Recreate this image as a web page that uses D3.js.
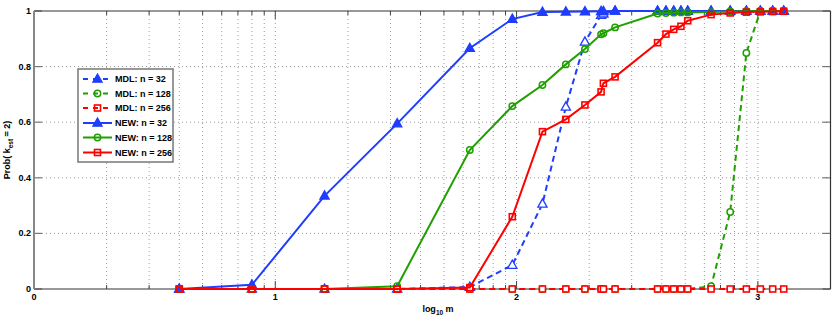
<!DOCTYPE html>
<html><head><meta charset="utf-8">
<script src="https://cdn.jsdelivr.net/npm/d3@7"></script>
<style>body{margin:0;background:#fff;} svg{display:block;} text{font-family:"Liberation Sans",Arial,sans-serif;font-weight:bold;}</style>
</head><body>
<svg id="c" width="837" height="317"></svg>
<script>
const mValues = [4, 8, 16, 32, 64, 96, 128, 160, 192, 224, 229, 256, 384, 416, 448, 480, 512, 640, 768, 896, 1024, 1152, 1280];
const mdl32  = [0, 0, 0, 0, 0.007, 0.086, 0.306, 0.655, 0.889, 0.985, 0.99, 1, 1, 1, 1, 1, 1, 1, 1, 1, 1, 1, 1];
const mdl128 = [0, 0, 0, 0, 0, 0, 0, 0, 0, 0, 0, 0, 0, 0, 0, 0, 0, 0.01, 0.277, 0.849, 1, 1, 1];
const mdl256 = [0, 0, 0, 0, 0, 0, 0, 0, 0, 0, 0, 0, 0, 0, 0, 0, 0, 0, 0, 0, 0, 0, 0];
const new32  = [0, 0.015, 0.335, 0.595, 0.866, 0.971, 0.996, 0.997, 0.998, 0.999, 0.999, 1, 1, 1, 1, 1, 1, 1, 1, 1, 1, 1, 1];
const new128 = [0, 0, 0, 0.01, 0.5, 0.658, 0.734, 0.808, 0.863, 0.916, 0.92, 0.941, 0.991, 0.993, 0.994, 0.995, 0.995, 0.996, 0.998, 0.999, 1, 1, 1];
const new256 = [0, 0, 0, 0, 0.005, 0.26, 0.566, 0.61, 0.662, 0.709, 0.74, 0.763, 0.886, 0.917, 0.934, 0.945, 0.965, 0.987, 0.993, 0.996, 0.997, 0.998, 0.999];
const seriesNames = ["MDL: n = 32", "MDL: n = 128", "MDL: n = 256", "NEW: n = 32", "NEW: n = 128", "NEW: n = 256"];
const xTickValues = [1, 10, 100, 1000];
const xTickLabels = ["0", "1", "2", "3"];
const yTickValues = [0, 0.2, 0.4, 0.6, 0.8, 1];
const yTickLabels = ["0", "0.2", "0.4", "0.6", "0.8", "1"];

const blue = "#1f3dff", green = "#1fa000", red = "#ff0000";
const series = [
  {name: seriesNames[0], vals: mdl32, color: blue, dash: "6,4", shape: "tri", fill: "#fff"},
  {name: seriesNames[1], vals: mdl128, color: green, dash: "6,4", shape: "circ", fill: "#fff"},
  {name: seriesNames[2], vals: mdl256, color: red, dash: "6,4", shape: "sq", fill: "#fff"},
  {name: seriesNames[3], vals: new32, color: blue, dash: null, shape: "tri", fill: blue},
  {name: seriesNames[4], vals: new128, color: green, dash: null, shape: "circ", fill: "none"},
  {name: seriesNames[5], vals: new256, color: red, dash: null, shape: "sq", fill: "none"}
];

const svg = d3.select("#c");
const L = 34, R = 830.5, T = 11, B = 289;
const x = d3.scaleLog().domain([1, 2000]).range([L, R]);
const y = d3.scaleLinear().domain([0, 1]).range([B, T]);

// grid
const g = svg.append("g");
const minor = [];
for (let d = 1; d <= 1000; d *= 10) for (let k = 1; k <= 9; k++) { const v = k * d; if (v > 1 && v < 2000) minor.push(v); }
g.selectAll(".vg").data(minor).enter().append("line")
  .attr("x1", d => x(d)).attr("x2", d => x(d)).attr("y1", T).attr("y2", B)
  .attr("stroke", "#9a9a9a").attr("stroke-width", 1).attr("stroke-dasharray", "1,3");
g.selectAll(".hg").data(yTickValues.filter(v => v > 0 && v < 1)).enter().append("line")
  .attr("x1", L).attr("x2", R).attr("y1", d => y(d)).attr("y2", d => y(d))
  .attr("stroke", "#9a9a9a").attr("stroke-width", 1).attr("stroke-dasharray", "1,3");

// ticks inward
g.selectAll(".mt").data(minor).enter().append("line")
  .attr("x1", d => x(d)).attr("x2", d => x(d)).attr("y1", B).attr("y2", d => (xTickValues.includes(d) ? B - 8 : B - 4))
  .attr("stroke", "#444").attr("stroke-width", 1);
g.selectAll(".mt2").data(minor).enter().append("line")
  .attr("x1", d => x(d)).attr("x2", d => x(d)).attr("y1", T).attr("y2", d => (xTickValues.includes(d) ? T + 8 : T + 4))
  .attr("stroke", "#444").attr("stroke-width", 1);
g.selectAll(".yt").data(yTickValues).enter().append("line")
  .attr("x1", L).attr("x2", L + 8).attr("y1", d => y(d)).attr("y2", d => y(d)).attr("stroke", "#777").attr("stroke-width", 1.2);
g.selectAll(".yt2").data(yTickValues).enter().append("line")
  .attr("x1", R - 8).attr("x2", R).attr("y1", d => y(d)).attr("y2", d => y(d)).attr("stroke", "#777").attr("stroke-width", 1.2);

// frame
g.append("line").attr("x1", L).attr("x2", R).attr("y1", T).attr("y2", T).attr("stroke", "#333").attr("stroke-width", 1.2);
g.append("line").attr("x1", L).attr("x2", R).attr("y1", B).attr("y2", B).attr("stroke", "#333").attr("stroke-width", 1.2);
g.append("line").attr("x1", R).attr("x2", R).attr("y1", T).attr("y2", B).attr("stroke", "#333").attr("stroke-width", 1.2);
g.append("line").attr("x1", L).attr("x2", L).attr("y1", T).attr("y2", B).attr("stroke", "#888").attr("stroke-width", 2);

// tick labels
svg.selectAll(".xl").data(xTickValues).enter().append("text")
  .attr("x", d => x(d)).attr("y", B + 11).attr("text-anchor", "middle").attr("font-size", "9px")
  .text((d, i) => xTickLabels[i]);
svg.selectAll(".yl").data(yTickValues).enter().append("text")
  .attr("x", L - 3).attr("y", d => y(d) + 3).attr("text-anchor", "end").attr("font-size", "9px")
  .text((d, i) => yTickLabels[i]);

// axis labels
const xl = svg.append("text").attr("x", 438).attr("y", 312).attr("text-anchor", "middle").attr("font-size", "9px");
xl.append("tspan").text("log");
xl.append("tspan").attr("font-size", "6.5px").attr("dy", 3).text("10");
xl.append("tspan").attr("dy", -3).text(" m");
const yl = svg.append("text").attr("transform", "translate(10,150) rotate(-90)").attr("text-anchor", "middle").attr("font-size", "9px");
yl.append("tspan").text("Prob( k");
yl.append("tspan").attr("font-size", "6.5px").attr("dy", 3).text("est");
yl.append("tspan").attr("dy", -3).text(" = 2)");

function marker(sel, s, cx, cy) {
  if (s.shape === "tri") {
    sel.append("path").attr("d", `M${cx},${cy - 5}L${cx + 4.6},${cy + 3.2}L${cx - 4.6},${cy + 3.2}Z`)
      .attr("fill", s.fill).attr("stroke", s.color).attr("stroke-width", 1.3);
  } else if (s.shape === "circ") {
    sel.append("circle").attr("cx", cx).attr("cy", cy).attr("r", 3.2)
      .attr("fill", s.fill).attr("stroke", s.color).attr("stroke-width", 1.5);
  } else {
    sel.append("rect").attr("x", cx - 3).attr("y", cy - 3).attr("width", 6).attr("height", 6)
      .attr("fill", s.fill).attr("stroke", s.color).attr("stroke-width", 1.6);
  }
}

const line = d3.line().x(d => x(d[0])).y(d => y(d[1]));
const plot = svg.append("g");
series.forEach(s => {
  const pts = mValues.map((m, i) => [m, s.vals[i]]);
  const gs = plot.append("g");
  gs.append("path").attr("d", line(pts)).attr("fill", "none").attr("stroke", s.color)
    .attr("stroke-width", 2).attr("stroke-dasharray", s.dash);
  pts.forEach(p => marker(gs, s, x(p[0]), y(p[1])));
});

// legend
const lg = svg.append("g");
lg.append("rect").attr("x", 78).attr("y", 69).attr("width", 95).attr("height", 93)
  .attr("fill", "#fff").attr("stroke", "#777").attr("stroke-width", 1.5);
const ly = [79, 93.5, 108, 123, 137.5, 152.5];
series.forEach((s, i) => {
  lg.append("line").attr("x1", 83).attr("x2", 112).attr("y1", ly[i]).attr("y2", ly[i])
    .attr("stroke", s.color).attr("stroke-width", 2).attr("stroke-dasharray", s.dash ? "5,5" : null);
  marker(lg, {shape: s.shape, color: s.color, fill: s.shape === "tri" ? s.color : (s.dash ? "none" : s.fill)}, 97.5, ly[i]);
  lg.append("text").attr("x", 115).attr("y", ly[i] + 3.3).attr("font-size", "9px").text(s.name);
});
</script>
</body></html>
